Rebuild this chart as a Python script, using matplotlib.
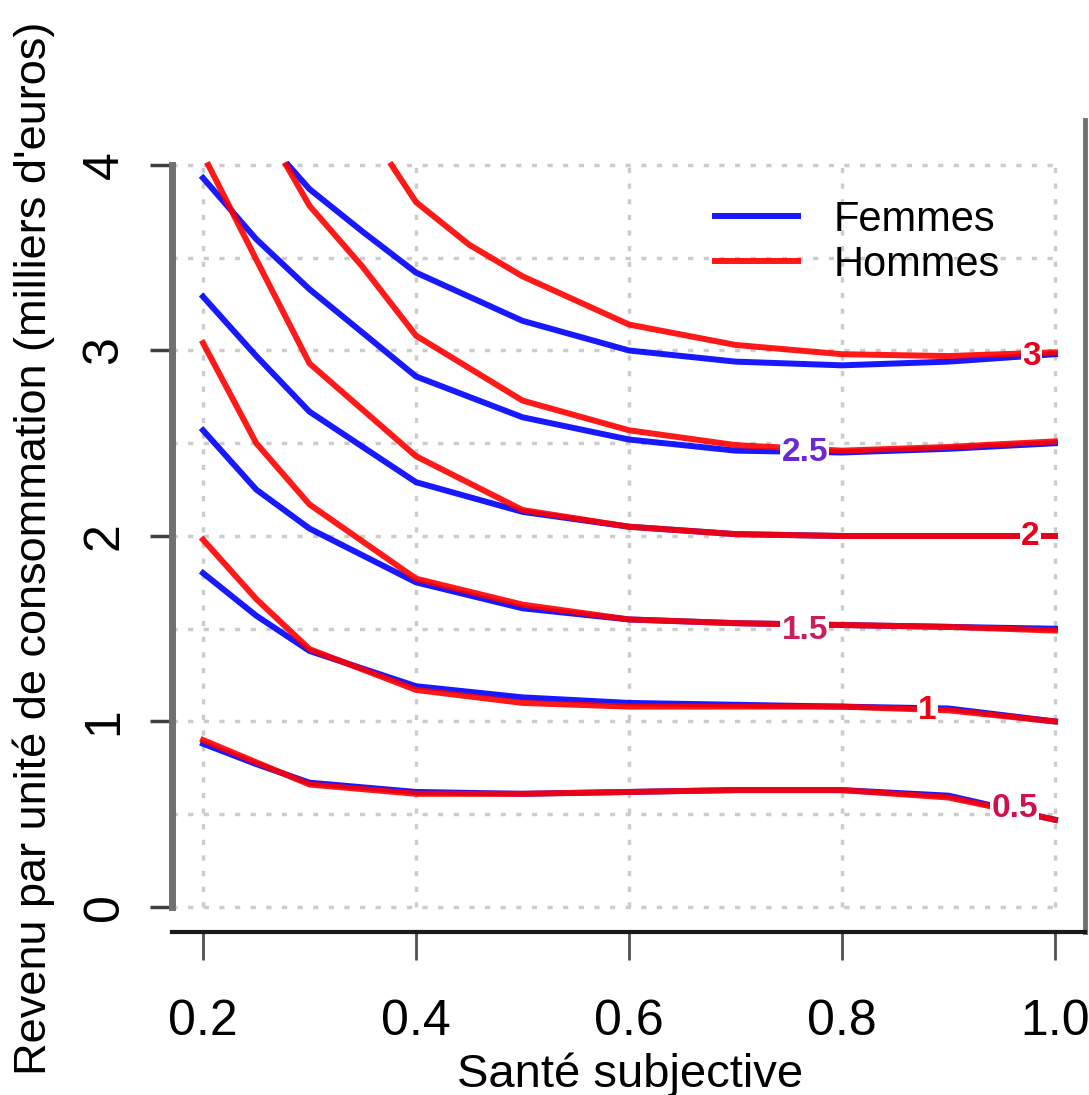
import numpy as np
import matplotlib.pyplot as plt

plt.rcParams['font.family'] = ['Liberation Sans', 'DejaVu Sans']

# niveaux des courbes d'indifference
niveaux = [0.5, 1, 1.5, 2, 2.5, 3]
niveaux_txt = ["0.5", "1", "1.5", "2", "2.5", "3"]

# Femmes (bleu)
f_x = [
    [0.2, 0.25, 0.3, 0.4, 0.5, 0.6, 0.7, 0.8, 0.9, 1.0],
    [0.2, 0.25, 0.3, 0.4, 0.5, 0.6, 0.7, 0.8, 0.9, 1.0],
    [0.2, 0.25, 0.3, 0.4, 0.5, 0.6, 0.7, 0.8, 0.9, 1.0],
    [0.2, 0.25, 0.3, 0.4, 0.5, 0.6, 0.7, 0.8, 0.9, 1.0],
    [0.2, 0.25, 0.3, 0.4, 0.5, 0.6, 0.7, 0.8, 0.9, 1.0],
    [0.28, 0.3, 0.35, 0.4, 0.5, 0.6, 0.7, 0.8, 0.9, 1.0],
]
f_y = [
    [0.88, 0.77, 0.67, 0.62, 0.61, 0.62, 0.63, 0.63, 0.60, 0.47],
    [1.80, 1.57, 1.38, 1.19, 1.13, 1.10, 1.09, 1.08, 1.07, 1.00],
    [2.57, 2.25, 2.04, 1.75, 1.61, 1.55, 1.53, 1.52, 1.51, 1.50],
    [3.29, 2.97, 2.67, 2.29, 2.13, 2.05, 2.01, 2.00, 2.00, 2.00],
    [3.93, 3.60, 3.33, 2.86, 2.64, 2.52, 2.46, 2.45, 2.47, 2.50],
    [4.00, 3.87, 3.64, 3.42, 3.16, 3.00, 2.94, 2.92, 2.94, 2.98],
]

# Hommes (rouge)
h_x = [
    [0.2, 0.25, 0.3, 0.4, 0.5, 0.6, 0.7, 0.8, 0.9, 1.0],
    [0.2, 0.25, 0.3, 0.4, 0.5, 0.6, 0.7, 0.8, 0.9, 1.0],
    [0.2, 0.25, 0.3, 0.4, 0.5, 0.6, 0.7, 0.8, 0.9, 1.0],
    [0.205, 0.25, 0.3, 0.4, 0.5, 0.6, 0.7, 0.8, 0.9, 1.0],
    [0.278, 0.3, 0.35, 0.4, 0.5, 0.6, 0.7, 0.8, 0.9, 1.0],
    [0.377, 0.4, 0.45, 0.5, 0.6, 0.7, 0.8, 0.9, 1.0],
]
h_y = [
    [0.90, 0.78, 0.66, 0.61, 0.61, 0.62, 0.63, 0.63, 0.59, 0.47],
    [1.98, 1.66, 1.39, 1.17, 1.10, 1.08, 1.08, 1.08, 1.06, 1.00],
    [3.04, 2.50, 2.17, 1.77, 1.63, 1.55, 1.53, 1.52, 1.51, 1.49],
    [4.00, 3.49, 2.93, 2.43, 2.14, 2.05, 2.01, 2.00, 2.00, 2.00],
    [4.00, 3.78, 3.45, 3.08, 2.73, 2.57, 2.49, 2.46, 2.48, 2.51],
    [4.00, 3.80, 3.57, 3.40, 3.14, 3.03, 2.98, 2.97, 2.99],
]

# position et couleur des etiquettes de niveau
lab_x = [0.962, 0.880, 0.765, 0.977, 0.765, 0.978]
lab_y = [0.53, 1.06, 1.49, 1.995, 2.45, 2.965]
lab_col = ['#d0104a', '#f00010', '#c8205c', '#e8001c', '#6a28d0', '#e8001c']

xticks = [0.2, 0.4, 0.6, 0.8, 1.0]
yticks = [0, 1, 2, 3, 4]

fig = plt.figure(figsize=(10.89, 10.95), dpi=100)
ax = fig.add_axes([0.158, 0.1489, 0.8383, 0.7415])
ax.set_xlim(0.1709, 1.0282)
ax.set_ylim(-0.1348, 4.2426)

# grille pointillee (limitee au cadre 0.2-1 / 0-4)
ax.vlines(xticks, 0, 4, color='#cccccc', lw=2.5, ls=(0, (1.5, 3)), zorder=1)
ax.hlines(np.arange(0, 4.01, 0.5), 0.1709, 1.0, color='#cccccc', lw=2.5,
          ls=(0, (1.5, 3)), zorder=1)

for i in range(len(niveaux)):
    ax.plot(f_x[i], f_y[i], color='blue', lw=4.3, alpha=0.9, zorder=2,
            label="Femmes" if i == 0 else None)
for i in range(len(niveaux)):
    ax.plot(h_x[i], h_y[i], color='red', lw=4.3, alpha=0.9, zorder=3,
            label="Hommes" if i == 0 else None)

for i in range(len(niveaux)):
    ax.text(lab_x[i], lab_y[i], niveaux_txt[i], color=lab_col[i],
            fontsize=24, fontweight='bold', ha='center', va='center', zorder=5,
            bbox=dict(facecolor='white', edgecolor='none', pad=1))

# axes facon R
ax.spines['top'].set_visible(False)
ax.spines['left'].set_bounds(0, 4)
ax.spines['left'].set_color('#707070')
ax.spines['left'].set_linewidth(5)
ax.spines['right'].set_color('#707070')
ax.spines['right'].set_linewidth(3.5)
ax.spines['bottom'].set_color('#1a1a1a')
ax.spines['bottom'].set_linewidth(3)

ax.set_xticks(xticks)
ax.set_xticklabels(["0.2", "0.4", "0.6", "0.8", "1.0"])
ax.set_yticks(yticks)
ax.set_yticklabels([str(v) for v in yticks], rotation=90, va='center')
ax.tick_params(axis='x', length=20, width=2, color='#505050', pad=28, labelsize=36)
ax.tick_params(axis='y', length=16, width=2.5, color='#404040', pad=16, labelsize=36)

ax.set_xlabel("Santé subjective", fontsize=34)
ax.xaxis.set_label_coords(0.5016, -0.148)
ax.set_ylabel("Revenu par unité de consommation (milliers d'euros)", fontsize=32.5)
ax.yaxis.set_label_coords(-0.128, 0.473)

ax.legend(loc='upper left', bbox_to_anchor=(0.5947, 0.902), frameon=False,
          fontsize=30, handlelength=2.0, handletextpad=0.85, labelspacing=0.12,
          borderpad=0, borderaxespad=0)

fig.savefig("out.png", dpi=100)
